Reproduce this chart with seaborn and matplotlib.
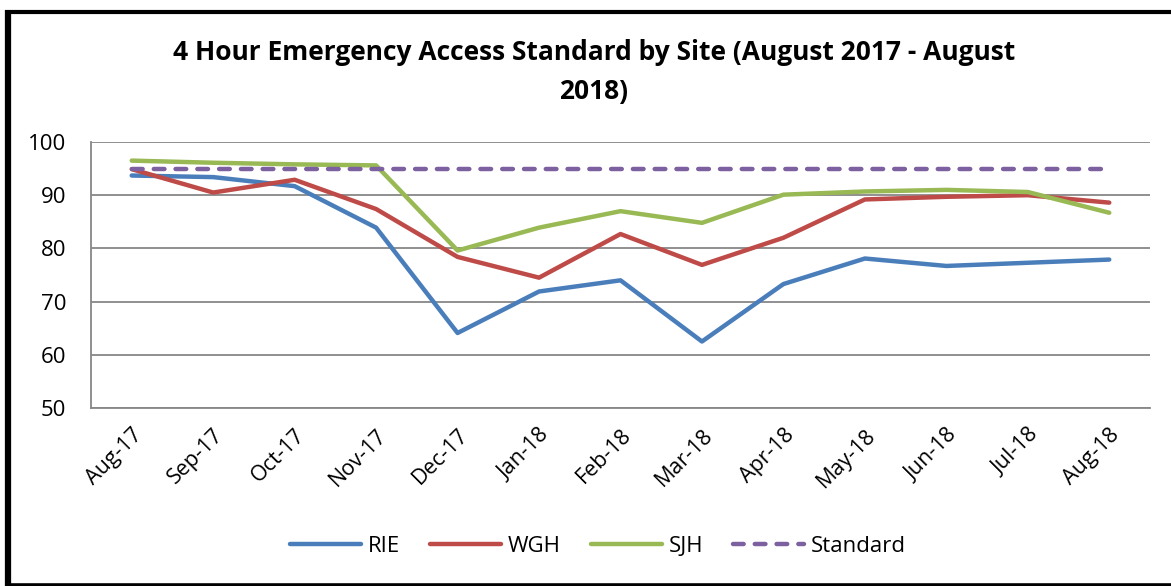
import matplotlib
matplotlib.use("Agg")
import matplotlib.pyplot as plt
from matplotlib.lines import Line2D
from matplotlib.ticker import FixedLocator, NullFormatter
import seaborn as sns
import pandas as pd
import numpy as np

months = ["Aug-17", "Sep-17", "Oct-17", "Nov-17", "Dec-17", "Jan-18", "Feb-18",
          "Mar-18", "Apr-18", "May-18", "Jun-18", "Jul-18", "Aug-18"]
rie = [93.7, 93.4, 91.7, 83.9, 64.1, 71.9, 74.0, 62.5, 73.3, 78.1, 76.7, 77.3, 77.9]
wgh = [94.9, 90.5, 92.9, 87.4, 78.4, 74.5, 82.7, 76.9, 82.0, 89.2, 89.7, 90.0, 88.6]
sjh = [96.5, 96.1, 95.8, 95.6, 79.6, 83.9, 87.0, 84.8, 90.1, 90.7, 91.0, 90.6, 86.7]
standard = [95] * 13
series_names = ["RIE", "WGH", "SJH", "Standard"]
colors = ["#4A7EBB", "#BE4B48", "#98B954", "#7D60A0"]
yticks = [50, 60, 70, 80, 90, 100]

sns.set_style("white")
plt.rcParams['font.family'] = ['Open Sans', 'DejaVu Sans']
plt.rcParams['text.color'] = 'black'
plt.rcParams['xtick.color'] = 'black'
plt.rcParams['ytick.color'] = 'black'

W, H = 1171, 586
fig = plt.figure(figsize=(W/100, H/100), dpi=100)
ax = fig.add_axes([91/W, 1 - 408/H, (1150-91)/W, (408-142)/H])

x = np.arange(len(months))
data = [rie, wgh, sjh, standard]
for name, vals, col in zip(series_names, data, colors):
    df = pd.DataFrame({"x": x, "y": vals})
    ls = (0, (2.4, 2.5)) if name == "Standard" else "-"
    sns.lineplot(data=df, x="x", y="y", ax=ax, color=col, linewidth=3.2,
                 label=name, linestyle=ls, solid_capstyle="round",
                 dash_capstyle="round")

ax.set_xlim(-0.5, len(months) - 0.5)
ax.set_ylim(50, 100)
ax.set_yticks(yticks)
ax.set_yticklabels([str(v) for v in yticks], fontsize=16)
ax.set_xticks(x)
ax.set_xticklabels(months, rotation=45, ha="right", rotation_mode="anchor", fontsize=15.5)
ax.xaxis.set_minor_locator(FixedLocator(np.arange(-0.5, len(months), 1.0)))
ax.xaxis.set_minor_formatter(NullFormatter())
ax.tick_params(axis="x", which="major", length=0, pad=12)
ax.tick_params(axis="x", which="minor", length=7, width=1.3, color="#878787", direction="out")
ax.tick_params(axis="y", which="major", length=6, width=1.3, color="#878787",
               labelcolor="black", direction="out", pad=12)
ax.set_xlabel("")
ax.set_ylabel("")
ax.grid(axis="y", color="#878787", linewidth=1.3)
ax.set_axisbelow(True)
for s in ["top", "right"]:
    ax.spines[s].set_visible(False)
for s in ["left", "bottom"]:
    ax.spines[s].set_color("#878787")
    ax.spines[s].set_linewidth(1.3)

ax.legend_.remove()
handles, labels = ax.get_legend_handles_labels()
fig.legend(handles, labels, loc="center", bbox_to_anchor=(598/W, 1 - 546/H),
           ncol=4, frameon=False, fontsize=16, handlelength=3.2, columnspacing=1.35,
           handletextpad=0.3)

fig.text(594/W, 1 - 53/H, "4 Hour Emergency Access Standard by Site (August 2017 - August",
         ha="center", va="center", fontsize=19, fontweight="bold")
fig.text(594/W, 1 - 92/H, "2018)", ha="center", va="center", fontsize=19, fontweight="bold")

# outer chart frame
fig.add_artist(Line2D([8/W, 8/W], [1 - 10/H, 1 - 586/H], transform=fig.transFigure,
                      color="black", linewidth=4.5, solid_capstyle="butt"))
fig.add_artist(Line2D([5/W, 1], [1 - 12/H, 1 - 12/H], transform=fig.transFigure,
                      color="black", linewidth=3.0, solid_capstyle="butt"))
fig.add_artist(Line2D([5/W, 1], [1 - 584.5/H, 1 - 584.5/H], transform=fig.transFigure,
                      color="black", linewidth=2.6, solid_capstyle="butt"))

fig.savefig("out.png", dpi=100)
